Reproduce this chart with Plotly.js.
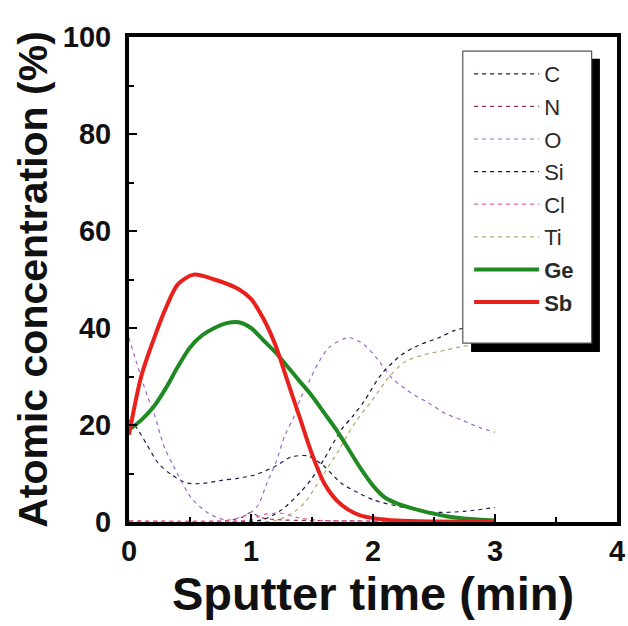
<!DOCTYPE html>
<html>
<head>
<meta charset="utf-8">
<script src="https://cdn.plot.ly/plotly-3.0.1.min.js"></script>
<style>html,body{margin:0;padding:0;background:#fff;}#chart{width:628px;height:626px;}</style>
</head>
<body>
<div id="chart"></div>
<script>
// Sputter time (min) and atomic concentration (%) per element
var cX  = [0, 0.06, 0.15, 0.24, 0.35, 0.48, 0.62, 0.76, 0.89, 1.03, 1.2, 1.33, 1.47, 1.59, 1.74, 1.88, 2.01, 2.25, 2.5, 2.75, 3.0];
var cY  = [21, 19.5, 15.8, 12.1, 9.7, 8, 8, 8.6, 9, 9.7, 11.5, 13.4, 13.6, 11.7, 8, 6, 4.5, 3, 2, 2.2, 3];

var nX  = [0, 0.5, 0.8, 0.93, 1.0, 1.07, 1.2, 1.5, 2.0, 3.0];
var nY  = [0, 0, 0.3, 1, 2, 1, 0.5, 0.3, 0.2, 0.2];

var oX  = [0, 0.06, 0.15, 0.21, 0.29, 0.37, 0.51, 0.65, 0.8, 0.92, 1.0, 1.06, 1.13, 1.2, 1.28, 1.35, 1.41, 1.48, 1.55, 1.64, 1.8, 1.93, 2.04, 2.15, 2.32, 2.46, 2.59, 2.73, 2.87, 3.0];
var oY  = [38, 33, 26, 22, 15.4, 11.3, 5, 1.8, 0.4, 1, 2, 3.5, 8, 12, 18, 21.6, 25.7, 29.2, 32.7, 36, 38, 36.5, 33.5, 29.8, 26.5, 24.5, 22.4, 21, 19.5, 18.5];

var siX = [0, 0.8, 1.1, 1.25, 1.4, 1.5, 1.6, 1.74, 1.84, 1.93, 2.07, 2.23, 2.37, 2.54, 2.67, 2.85, 3.0];
var siY = [0, 0, 0.5, 2.5, 6, 9, 13, 19, 22, 25, 30.5, 34.4, 36.4, 38, 39.5, 40.5, 41];

var clX = [0, 0.5, 1.0, 1.1, 1.25, 1.4, 1.6, 2.0, 3.0];
var clY = [0.3, 0.2, 0.5, 1.5, 1.8, 0.8, 0.3, 0.2, 0.1];

var tiX = [0, 0.8, 1.2, 1.35, 1.44, 1.58, 1.72, 1.85, 1.99, 2.13, 2.26, 2.42, 2.59, 2.73, 3.0];
var tiY = [0, 0, 0.3, 2, 4, 9.3, 14.8, 20.4, 25, 29.8, 33, 34.5, 35.4, 36.2, 37];

var geX = [0, 0.1, 0.2, 0.3, 0.4, 0.5, 0.6, 0.7, 0.8, 0.9, 1.0, 1.1, 1.2, 1.3, 1.4, 1.5, 1.6, 1.7, 1.8, 1.9, 2.0, 2.1, 2.2, 2.4, 2.6, 2.8, 3.0];
var geY = [19, 21, 23.7, 27.5, 32, 36, 38.5, 40, 41, 41.2, 40, 37.5, 35, 32, 29, 26, 22.5, 19, 15, 11, 7.5, 5, 3.8, 2.3, 1.2, 0.6, 0.3];

var sbX = [0, 0.1, 0.2, 0.3, 0.4, 0.53, 0.7, 0.9, 1.0, 1.1, 1.2, 1.3, 1.4, 1.5, 1.6, 1.7, 1.8, 1.9, 2.0, 2.2, 2.5, 3.0];
var sbY = [18, 30, 37.5, 44, 49, 51, 50, 48, 46, 42, 36.5, 29, 21.5, 14, 8, 4.5, 2.5, 1.3, 0.8, 0.3, 0.1, 0];

var names  = ['C', 'N', 'O', 'Si', 'Cl', 'Ti', '<b>Ge</b>', '<b>Sb</b>'];
var colors = ['#1c1c50', '#8e2a5c', '#9a6ad0', '#141438', '#e2609e', '#b8a66a', '#1f8a22', '#e8211c'];

var series = [[cX, cY], [nX, nY], [oX, oY], [siX, siY], [clX, clY], [tiX, tiY], [geX, geY], [sbX, sbY]];

var traces = series.map(function (s, i) {
  var solid = i >= 6;
  return {
    x: s[0], y: s[1], name: names[i], type: 'scatter', mode: 'lines',
    legendgroup: 'g' + i,
    line: {color: colors[i], width: solid ? 4 : 1.2, dash: solid ? 'solid' : '4px,4px', shape: 'spline', smoothing: 0.8}
  };
});

var fam = 'Liberation Sans, Arial, sans-serif';
var axisFont = {family: fam, size: 29, color: '#111', weight: 'bold'};

var layout = {
  width: 628, height: 626,
  margin: {l: 129, r: 11, t: 37, b: 104},
  paper_bgcolor: '#fff', plot_bgcolor: '#fff',
  showlegend: true,
  xaxis: {
    range: [0, 4], dtick: 1, tick0: 0,
    ticks: 'inside', ticklen: 8, tickwidth: 2, tickcolor: '#000',
    minor: {dtick: 0.5, ticks: 'inside', ticklen: 5, tickwidth: 2, tickcolor: '#000'},
    showline: true, linewidth: 4, linecolor: '#000', mirror: true,
    showgrid: false, zeroline: false,
    tickfont: axisFont,
    title: {text: 'Sputter time (min)', font: {family: fam, size: 47, color: '#111', weight: 'bold'}, standoff: 12}
  },
  yaxis: {
    range: [0, 100], dtick: 20, tick0: 0,
    ticks: 'inside', ticklen: 8, tickwidth: 2, tickcolor: '#000',
    minor: {dtick: 10, ticks: 'inside', ticklen: 5, tickwidth: 2, tickcolor: '#000'},
    showline: true, linewidth: 4, linecolor: '#000', mirror: true,
    showgrid: false, zeroline: false,
    ticklabelstandoff: 8,
    tickfont: axisFont,
    title: {text: 'Atomic concentration (%)', font: {family: fam, size: 41, color: '#111', weight: 'bold'}, standoff: 3}
  },
  legend: {
    x: 0.697, y: 0.967, xanchor: 'left', yanchor: 'top',
    bgcolor: 'rgba(0,0,0,0)', borderwidth: 0,
    font: {family: fam, size: 22, color: '#2a2a2a'},
    tracegroupgap: 1, itemwidth: 65
  },
  shapes: [
    {type: 'rect', xref: 'paper', yref: 'paper', layer: 'above',
     x0: 0.701, x1: 0.965, y0: 0.3505, y1: 0.955,
     fillcolor: '#000', line: {width: 0}},
    {type: 'rect', xref: 'paper', yref: 'paper', layer: 'above',
     x0: 0.684, x1: 0.948, y0: 0.369, y1: 0.971,
     fillcolor: '#fff', line: {width: 1.2, color: '#555'}}
  ]
};

Plotly.newPlot('chart', traces, layout, {displayModeBar: false, staticPlot: true});
</script>
</body>
</html>
